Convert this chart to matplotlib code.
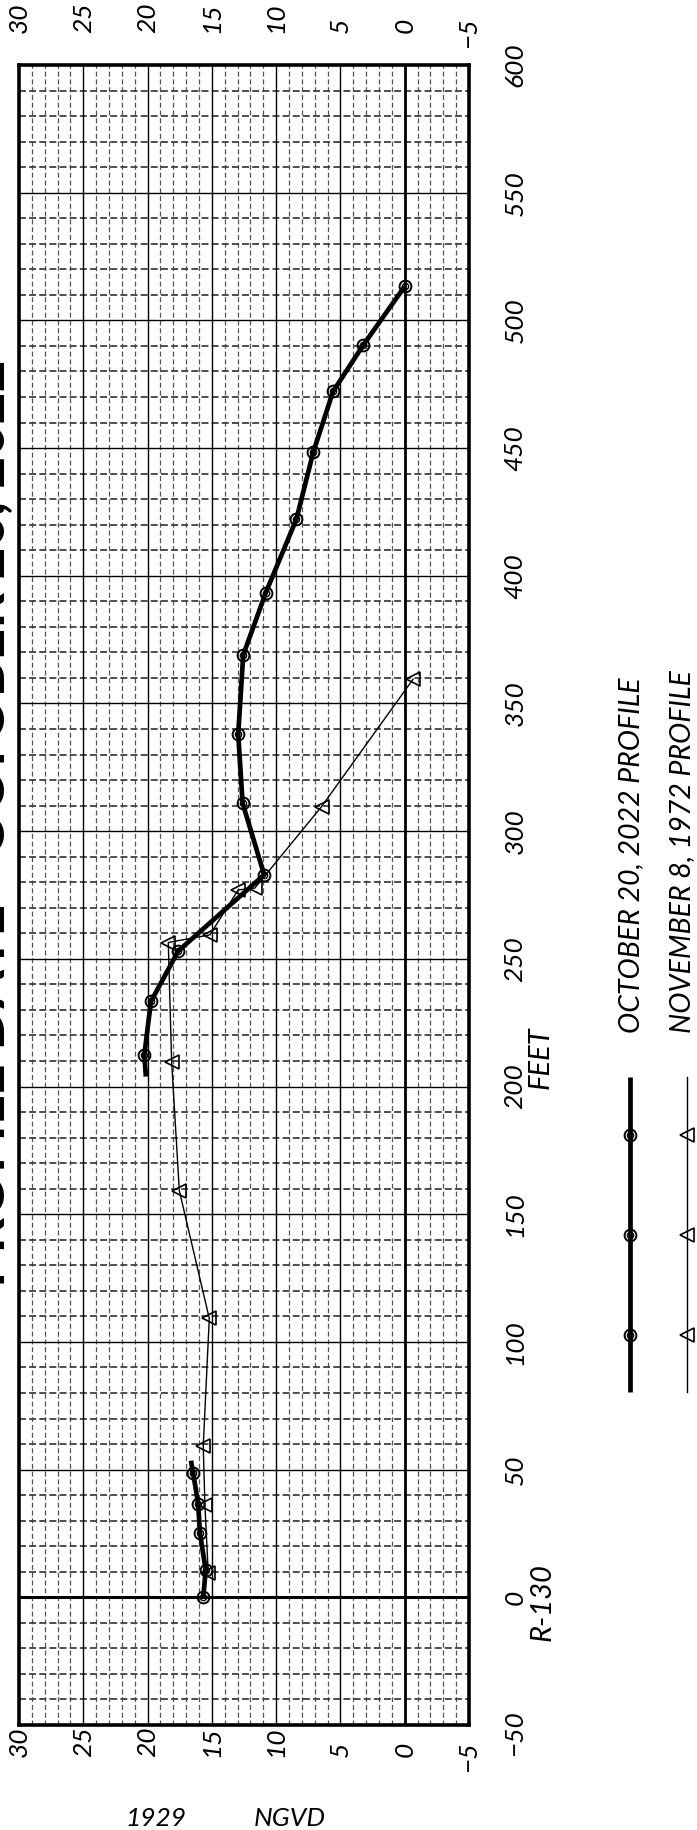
import numpy as np
import matplotlib
matplotlib.use("Agg")
import matplotlib.pyplot as plt
from matplotlib import transforms

plt.rcParams['lines.scale_dashes'] = False

# ---------------- data ----------------
dist_2022 = [0, 10.7, 25.3, 36.5, 48.5, 53.5, np.nan, 203.9, 212.4, 233.3, 253.1,
             282.9, 311.0, 338.0, 369.0, 393.2, 422.2, 448.3, 472.2, 490.2, 513.3]
elev_2022 = [15.67, 15.48, 15.93, 16.06, 16.45, 16.63, np.nan, 20.13, 20.25, 19.74, 17.61,
             10.93, 12.61, 12.95, 12.56, 10.82, 8.42, 7.12, 5.57, 3.24, 0.0]
marked_2022 = [0, 1, 2, 3, 4, 8, 9, 10, 11, 12, 13, 14, 15, 16, 17, 18, 19, 20]

dist_1972 = [9.4, 36.1, 59.2, 109.2, 159.2, 209.8, 256.4, 259.4, 277.0, 277.7, 309.6, 359.5]
elev_1972 = [15.28, 15.54, 15.67, 15.20, 17.53, 18.13, 18.39, 15.15, 12.95, 11.66, 6.47, -0.65]

elev_ticks = [30, 25, 20, 15, 10, 5, 0, -5]
feet_ticks = [600, 550, 500, 450, 400, 350, 300, 250, 200, 150, 100, 50, 0, -50]

label_2022 = "OCTOBER 20, 2022 PROFILE"
label_1972 = "NOVEMBER 8, 1972 PROFILE"
title_text = "PROFILE DATE - OCTOBER 20, 2022"

# ---------------- figure ----------------
W, H = 697, 1830
fig = plt.figure(figsize=(W / 100, H / 100), dpi=100)
fig.patch.set_facecolor("white")
L, R, T, B = 19, 469, 65, 1725
ax = fig.add_axes([L / W, 1 - B / H, (R - L) / W, (B - T) / H])
ax.set_xlim(30, -5)
ax.set_ylim(-50, 600)
ax.set_xticks([])
ax.set_yticks([])
for s in ax.spines.values():
    s.set_linewidth(2.6)
    s.set_color("black")
    s.set_zorder(10)

# minor grid
for e in range(-5, 31):
    if e % 5:
        ax.axvline(e, color="#555555", lw=0.9, ls=(0, (3.6, 2.0)), zorder=1)
for f in range(-50, 601, 10):
    if f % 50:
        ax.axhline(f, color="#404040", lw=1.3, ls=(0, (5.0, 2.3)), zorder=1)
# major grid
for e in range(0, 30, 5):
    ax.axvline(e, color="black", lw=2.0 if e == 0 else 1.0, zorder=2)
for f in range(-50, 600, 50):
    if f > -50:
        ax.axhline(f, color="black", lw=2.2 if f == 0 else 1.0, zorder=2)

# data
e22 = np.array(elev_2022)
d22 = np.array(dist_2022)
ax.plot(e22, d22, color="black", lw=3.4, solid_capstyle="butt", zorder=5)
ax.plot(e22[marked_2022], d22[marked_2022], ls="none", marker="o", ms=8.5,
        mfc="none", mec="black", mew=1.4, zorder=6)
ax.plot(e22[marked_2022], d22[marked_2022], ls="none", marker="o", ms=4.5,
        mfc="none", mec="black", mew=1.0, zorder=6)
ax.plot(elev_1972, dist_1972, color="black", lw=1.0, marker="<", ms=10,
        mfc="none", mec="black", mew=1.2, zorder=4)

# fonts
fam = ["Lato", "DejaVu Sans"]
fkw = dict(family=fam, style="italic", fontweight="normal", color="black")

renderer = fig.canvas.get_renderer()
def minus_width(size):
    t = fig.text(0, 0, "\u2212", fontsize=size, **fkw)
    w = t.get_window_extent(renderer).width
    t.remove()
    return w

def fmt(v):
    return ("\u2212" + str(-v)) if v < 0 else str(v)

TS = 19
mw = minus_width(TS)

# elevation labels top and bottom
xt = ax.get_xaxis_transform()
for v in elev_ticks:
    s = fmt(v)
    tr = xt
    if v < 0:
        tr = transforms.offset_copy(xt, fig=fig, x=0, y=-mw, units="dots")
    ax.text(v, 1 + 32 / (B - T), s, transform=tr, rotation=90, rotation_mode="anchor",
            ha="left", va="center", fontsize=TS, clip_on=False, **fkw)
    ax.text(v, -32 / (B - T), s, transform=tr, rotation=90, rotation_mode="anchor",
            ha="left", va="center", fontsize=TS, clip_on=False, **fkw)

# feet labels right
yt = ax.get_yaxis_transform()
for v in feet_ticks:
    s = fmt(v)
    tr = yt
    if v < 0:
        tr = transforms.offset_copy(yt, fig=fig, x=0, y=-mw / 2, units="dots")
    ax.text((515 - L) / (R - L), v, s, transform=tr, rotation=90, rotation_mode="anchor",
            ha="center", va="center", fontsize=TS, clip_on=False, **fkw)

# overlay in pixel coordinates for legend and free text
ov = fig.add_axes([0, 0, 1, 1])
ov.set_xlim(0, W)
ov.set_ylim(H, 0)
ov.axis("off")
ov.patch.set_visible(False)

ov.text(541, 1058, "FEET", rotation=90, rotation_mode="anchor", ha="center", va="center",
        fontsize=21, **fkw)
ov.text(543, 1602, "R-130", rotation=90, rotation_mode="anchor", ha="center", va="center",
        fontsize=21, **fkw)
ov.text(125, 1826, "1929", ha="left", va="baseline", fontsize=19, **fkw)
ov.text(254, 1826, "NGVD", ha="left", va="baseline", fontsize=19, **fkw)

# legend
ly = [1077, 1392]
mk = [1135, 1235, 1335]
ov.plot([630, 630], ly, color="black", lw=3.4, solid_capstyle="butt")
ov.plot([630] * 3, mk, ls="none", marker="o", ms=8.5, mfc="none", mec="black", mew=1.4)
ov.plot([630] * 3, mk, ls="none", marker="o", ms=4.5, mfc="none", mec="black", mew=1.0)
ov.plot([687, 687], ly, color="black", lw=1.0)
ov.plot([687] * 3, mk, ls="none", marker="<", ms=10, mfc="none", mec="black", mew=1.2)
ov.text(639, 1033, label_2022, rotation=90, rotation_mode="anchor", ha="left", va="baseline",
        fontsize=20.5, **fkw)
ov.text(690, 1033, label_1972, rotation=90, rotation_mode="anchor", ha="left", va="baseline",
        fontsize=20.5, **fkw)

# title (mostly cut off at the left edge, as in the reference)
ov.text(4, 823, title_text, rotation=90, rotation_mode="anchor", ha="center", va="baseline",
        fontsize=40, family=fam, fontweight="bold", color="black")

fig.savefig("out.png", dpi=100, facecolor="white")
